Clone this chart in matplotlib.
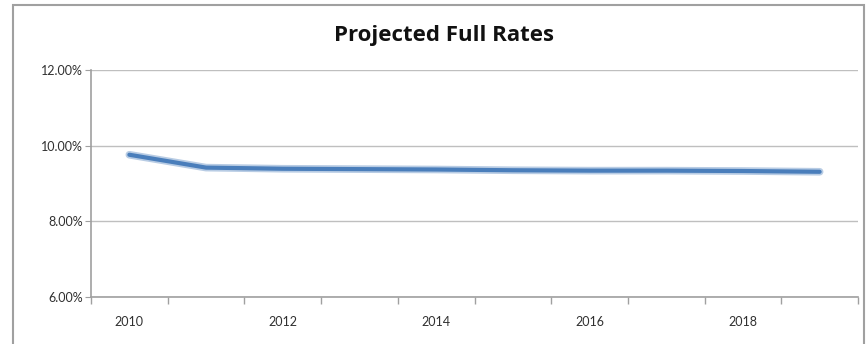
import numpy as np
import matplotlib
matplotlib.use("Agg")
import matplotlib.pyplot as plt
import matplotlib.ticker as mticker
from matplotlib.patches import Rectangle

# --- Data
years = [2010, 2011, 2012, 2013, 2014, 2015, 2016, 2017, 2018, 2019]
rates = [9.76, 9.42, 9.39, 9.38, 9.37, 9.35, 9.34, 9.34, 9.33, 9.31]
tick_years = [2010, 2012, 2014, 2016, 2018]
# ---

plt.rcParams['font.family'] = ['Lato', 'DejaVu Sans']

fig = plt.figure(figsize=(8.66, 3.44), dpi=100)
W, H = 866, 344
ax = fig.add_axes([91 / W, 1 - 297 / H, (858 - 91) / W, (297 - 70) / H])

# chart frame
fig.patches.append(Rectangle((13 / W, -0.01), (864 - 13) / W, 1 - 5 / H + 0.01,
                             transform=fig.transFigure, fill=False,
                             edgecolor='#a0a0a0', linewidth=1.5))

x = np.arange(len(years))
ax.plot(x, rates, color='#b8cce4', linewidth=5.5, solid_capstyle='round', zorder=2)
ax.plot(x, rates, color='#4a7ebb', linewidth=3.0, solid_capstyle='round', zorder=3)

ax.set_xlim(-0.5, len(years) - 0.5)
ax.set_ylim(6, 12)
ax.yaxis.set_major_locator(mticker.MultipleLocator(2))
ax.yaxis.set_major_formatter(mticker.FuncFormatter(lambda v, p: '%.2f%%' % v))
ax.grid(axis='y', color='#bfbfbf', linewidth=1)
ax.set_axisbelow(True)

# category axis: ticks between categories, labels every other year
ax.set_xticks(np.arange(len(years) + 1) - 0.5)
ax.set_xticklabels([])
ax.set_xticks([years.index(y) for y in tick_years], minor=True)
ax.set_xticklabels([str(y) for y in tick_years], minor=True)
ax.tick_params(axis='x', which='major', length=5, color='#a0a0a0', width=1)
ax.tick_params(axis='x', which='minor', length=0, pad=14, labelsize=9, labelcolor='#303030')
ax.tick_params(axis='y', length=4, color='#a0a0a0', labelsize=9, labelcolor='#303030', pad=2)

for s in ['top', 'right']:
    ax.spines[s].set_visible(False)
for s in ['left', 'bottom']:
    ax.spines[s].set_color('#a0a0a0')
    ax.spines[s].set_linewidth(1.2)

fig.text(444 / W, 1 - 35 / H, 'Projected Full Rates', ha='center', va='center',
         fontsize=16, fontweight='bold', color='#111111', family=['Open Sans', 'DejaVu Sans'])

fig.savefig('out.png', dpi=100)
